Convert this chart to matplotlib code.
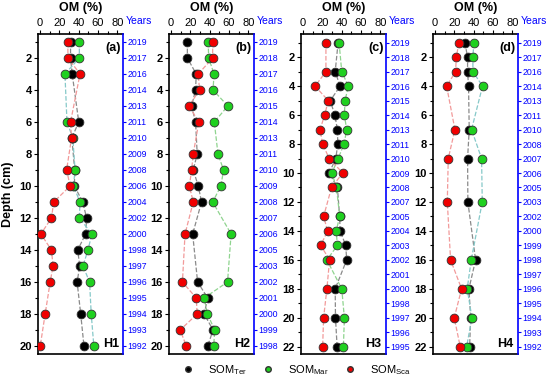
import matplotlib
matplotlib.use("Agg")
import matplotlib.pyplot as plt
from matplotlib.lines import Line2D
from matplotlib.ticker import MultipleLocator

plt.rcParams['font.family'] = ['Liberation Sans', 'DejaVu Sans']

# ----------------------
# Data (depth in cm, OM in %)
# ----------------------
depth_a = [1, 2, 3, 6, 7, 9, 10, 11, 12, 13, 14, 15, 16, 18, 20]
ter_a = [31.7, 31.7, 33.4, 40.2, 33, 36, 35.7, 44.3, 48.3, 47.3, 39.1, 41.2, 38.5, 42.2, 45.6]
mar_a = [40.8, 40.8, 25.9, 28, 34, 36.4, 34.7, 41.5, 40.8, 53.8, 49.7, 44.6, 51.4, 53.1, 55.8]
sca_a = [28.9, 29, 41.5, 31.7, 32.7, 27.6, 31.3, 14.3, 11.9, 1, 11.9, 13.6, 10.6, 5.4, 0.3]
years_a = [2019, 2017, 2016, 2014, 2013, 2011, 2010, 2009, 2008, 2006,
           2004, 2002, 2000, 1998, 1997, 1996, 1995, 1994, 1993, 1992]

depth_b = [1, 2, 3, 4, 5, 6, 8, 9, 10, 11, 13, 16, 17, 18, 19, 20]
ter_b = [17, 17, 26.2, 25.5, 21.4, 25.5, 27.2, 23.1, 28.3, 31.7, 22.5, 27.6, 38.1, 34.4, 43.6, 38.1]
mar_b = [38.5, 39.1, 44.6, 43.6, 58.9, 44.9, 48.7, 54.5, 51.7, 43.2, 62.3, 58.6, 34.4, 37.8, 45.3, 44.3]
sca_b = [43.2, 43.2, 28.3, 29.6, 18.7, 28.9, 23.1, 21.4, 19.1, 23.1, 14.6, 11.9, 26.2, 27.2, 9.5, 16]
years_b = [2019, 2018, 2017, 2016, 2015, 2014, 2013, 2011, 2010, 2009,
           2008, 2007, 2006, 2005, 2003, 2002, 2001, 2000, 1999, 1998]

depth_c = [1, 3, 4, 5, 6, 7, 8, 9, 10, 11, 13, 14, 15, 16, 18, 20, 22]
ter_c = [36.4, 33.4, 38.5, 28.3, 33, 35.7, 36.1, 34, 27.2, 35.7, 38, 38.5, 44.3, 45.3, 33.4, 33.7, 35.4]
mar_c = [37.4, 40.2, 47, 43.6, 42.9, 45.3, 42.6, 36.4, 30, 34.7, 38.1, 34.4, 35.7, 24.8, 40.2, 42.9, 41.9]
sca_c = [23.8, 23.8, 12.6, 26.2, 22.5, 17.7, 20.4, 27.2, 41.2, 29.6, 21.4, 25.5, 18.4, 27.6, 24.8, 21.4, 20.4]
years_c = [2019, 2018, 2017, 2016, 2015, 2014, 2013, 2011, 2010, 2009, 2008,
           2007, 2005, 2004, 2003, 2002, 2001, 2000, 1998, 1997, 1996, 1995]

depth_d = [1, 2, 3, 4, 7, 9, 12, 16, 18, 20, 22]
ter_d = [31, 33.8, 33.8, 34.8, 35.5, 33.8, 34.1, 42.1, 35.2, 37, 35.9]
mar_d = [40.3, 39.3, 39.3, 49.3, 37.9, 48.3, 49, 37.6, 33.4, 38.3, 32.8]
sca_d = [24.8, 22.1, 21.4, 12.1, 20.7, 13.8, 12.8, 16.2, 27.6, 20, 26.2]
years_d = [2019, 2017, 2016, 2014, 2013, 2011, 2010, 2008, 2007, 2006, 2005,
           2003, 2002, 2000, 1999, 1998, 1997, 1996, 1995, 1994, 1993, 1992]

panels = [
    ("(a)", "H1", depth_a, ter_a, mar_a, sca_a, years_a, 20, "#86c9c9"),
    ("(b)", "H2", depth_b, ter_b, mar_b, sca_b, years_b, 20, "#8fd48f"),
    ("(c)", "H3", depth_c, ter_c, mar_c, sca_c, years_c, 22, "#8fd48f"),
    ("(d)", "H4", depth_d, ter_d, mar_d, sca_d, years_d, 22, "#86c9c9"),
]

W, H = 550, 383
fig = plt.figure(figsize=(W / 100, H / 100), dpi=100)
lefts = [38, 169, 301, 433]
top_px, bot_px, width_px = 34, 354, 85

for i, (tag, site, dep, ter, mar, sca, years, nmax, gline) in enumerate(panels):
    ax = fig.add_axes([lefts[i] / W, 1 - bot_px / H, width_px / W, (bot_px - top_px) / H])
    ymax = 20.5 if nmax == 20 else 22.5
    ymin = 0.5 if nmax == 20 else 0.4

    # dashed connecting lines
    ax.plot(ter, dep, ls="--", color="#8a8a8a", lw=0.9, zorder=1)
    ax.plot(mar, dep, ls="--", color=gline, lw=0.9, zorder=1)
    ax.plot(sca, dep, ls="--", color="#f29a9a", lw=0.9, zorder=1)
    # points
    ax.plot(ter, dep, "o", color="black", mec="#333333", mew=0.6, ms=6.3, zorder=3)
    ax.plot(mar, dep, "o", color="#1fd01f", mec="#333333", mew=0.6, ms=6.3, zorder=4)
    ax.plot(sca, dep, "o", color="#f00000", mec="#333333", mew=0.6, ms=6.3, zorder=5)

    ax.set_xlim(-2, 86)
    ax.set_ylim(ymax, ymin)
    ax.xaxis.tick_top()
    ax.xaxis.set_label_position("top")
    ax.set_xticks([0, 20, 40, 60, 80])
    ax.xaxis.set_minor_locator(MultipleLocator(10))
    ax.set_xlabel("OM (%)", fontsize=9, fontweight="bold", labelpad=5)
    ax.yaxis.set_major_locator(MultipleLocator(2))
    ax.yaxis.set_minor_locator(MultipleLocator(1))
    ax.tick_params(axis="both", which="major", labelsize=8, length=3, width=0.8, pad=1.5)
    ax.tick_params(axis="both", which="minor", length=2, width=0.8)
    for lab in ax.get_yticklabels():
        lab.set_fontweight("bold")
    for s in ["left", "top", "bottom"]:
        ax.spines[s].set_linewidth(1.2)
    ax.spines["right"].set_visible(False)

    ax.text(0.97, 0.975, tag, transform=ax.transAxes, ha="right", va="top",
            fontsize=9, fontweight="bold")
    ax.text(0.95, 0.012, site, transform=ax.transAxes, ha="right", va="bottom",
            fontsize=9, fontweight="bold")

    # twin axis with years
    ax2 = ax.twinx()
    ax2.set_ylim(ymax, ymin)
    ax2.set_yticks(list(range(1, len(years) + 1)))
    ax2.set_yticklabels([str(y) for y in years])
    ax2.tick_params(axis="y", colors="blue", labelsize=6.3, length=2, width=0.8, pad=1)
    ax2.spines["right"].set_color("blue")
    ax2.spines["right"].set_linewidth(1.2)
    for s in ["left", "top", "bottom"]:
        ax2.spines[s].set_visible(False)
    ax.text(1.03, 1.025, "Years", transform=ax.transAxes, ha="left", va="bottom",
            fontsize=7.5, color="blue")

    if i == 0:
        ax.set_ylabel("Depth (cm)", fontsize=9, fontweight="bold", labelpad=4)

# legend
handles = [
    Line2D([], [], marker="o", ls="none", color="black", mec="#333333", ms=4),
    Line2D([], [], marker="o", ls="none", color="#1fd01f", mec="#333333", ms=4),
    Line2D([], [], marker="o", ls="none", color="#f00000", mec="#333333", ms=4),
]
labels = [r"SOM$_{\mathregular{Ter}}$", r"SOM$_{\mathregular{Mar}}$", r"SOM$_{\mathregular{Sca}}$"]
fig.legend(handles, labels, loc="center", bbox_to_anchor=(0.535, 1 - 370 / H), ncol=3,
           frameon=False, fontsize=8, handletextpad=0.8, columnspacing=0.9)

fig.savefig("out.png", dpi=100)
